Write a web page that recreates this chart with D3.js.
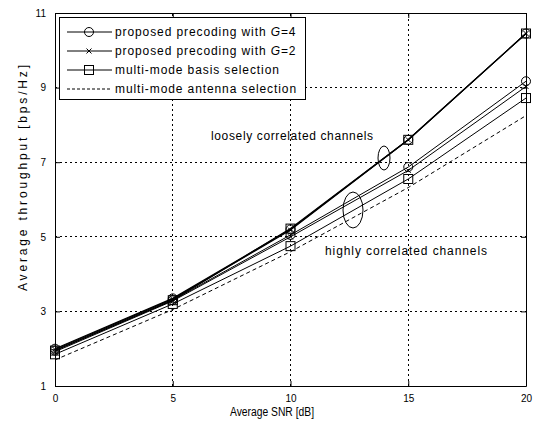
<!DOCTYPE html>
<html>
<head>
<meta charset="utf-8">
<script src="https://cdn.jsdelivr.net/npm/d3@7"></script>
<style>
  body { margin: 0; background: #fff; }
  svg { font-family: "Liberation Sans", Arial, sans-serif; }
</style>
</head>
<body>
<svg id="chart" width="546" height="425"></svg>
<script>
// data
const snr = [0, 5, 10, 15, 20];
const xTicks = [0, 5, 10, 15, 20];
const yTicks = [1, 3, 5, 7, 9, 11];

// loosely correlated channels
const looseG4 = [2.0, 3.35, 5.2, 7.6, 10.45];
const looseG2 = [1.98, 3.33, 5.18, 7.6, 10.45];
const looseBasis = [1.95, 3.3, 5.22, 7.6, 10.45];
// highly correlated channels
const highG4 = [1.95, 3.3, 5.05, 6.87, 9.17];
const highG2 = [1.92, 3.28, 5.0, 6.78, 9.03];
const highBasis = [1.85, 3.2, 4.75, 6.55, 8.72];
const antenna = [1.7, 3.05, 4.6, 6.32, 8.25];

const legendLabels = [
  "proposed precoding with G=4",
  "proposed precoding with G=2",
  "multi-mode basis selection",
  "multi-mode antenna selection"
];

const margin = {top: 13, right: 20, bottom: 39, left: 55};
const svg = d3.select("#chart");
const width = +svg.attr("width");
const height = +svg.attr("height");

const x = d3.scaleLinear().domain([0, 20]).range([margin.left, width - margin.right]);
const y = d3.scaleLinear().domain([1, 11]).range([height - margin.bottom, margin.top]);

// grid
const grid = svg.append("g").attr("stroke", "#000").attr("stroke-width", 1)
  .attr("stroke-dasharray", "2,3").attr("shape-rendering", "crispEdges");
grid.selectAll("line.gx").data(xTicks.slice(1, -1)).enter().append("line")
  .attr("x1", d => x(d)).attr("x2", d => x(d))
  .attr("y1", y(1)).attr("y2", y(11));
grid.selectAll("line.gy").data(yTicks.slice(1, -1)).enter().append("line")
  .attr("x1", x(0)).attr("x2", x(20))
  .attr("y1", d => y(d)).attr("y2", d => y(d));

// axes (MATLAB style, inward ticks)
const ax = svg.append("g").attr("font-size", 12);
ax.append("g").attr("transform", `translate(0,${y(1)})`)
  .call(d3.axisBottom(x).tickValues(xTicks).tickSizeInner(-5).tickSizeOuter(0).tickPadding(9));
ax.append("g").attr("transform", `translate(0,${y(11)})`)
  .call(d3.axisTop(x).tickValues(xTicks).tickSizeInner(-5).tickSizeOuter(0).tickFormat(""));
ax.append("g").attr("transform", `translate(${x(0)},0)`)
  .call(d3.axisLeft(y).tickValues(yTicks).tickSizeInner(-5).tickSizeOuter(0).tickPadding(9));
ax.append("g").attr("transform", `translate(${x(20)},0)`)
  .call(d3.axisRight(y).tickValues(yTicks).tickSizeInner(-5).tickSizeOuter(0).tickFormat(""));
ax.selectAll("path, line").attr("stroke", "#000");
ax.selectAll("text").attr("fill", "#000").attr("font-family", "Liberation Sans, Arial, sans-serif");

// axis labels
svg.append("text").attr("x", 272).attr("y", 416).attr("text-anchor", "middle")
  .attr("font-size", 12).attr("textLength", 84).attr("lengthAdjust", "spacingAndGlyphs")
  .text("Average SNR [dB]");
svg.append("text").attr("transform", "translate(27,178) rotate(-90)")
  .attr("text-anchor", "middle").attr("font-size", 12)
  .attr("textLength", 226).attr("lengthAdjust", "spacing")
  .text("Average throughput [bps/Hz]");

// lines
const line = d3.line().x((d, i) => x(snr[i])).y(d => y(d));
const series = [
  {v: looseG4, m: "circle", w: 1.2},
  {v: looseG2, m: "x", w: 1.2},
  {v: looseBasis, m: "square", w: 1.2},
  {v: highG4, m: "circle", w: 1},
  {v: highG2, m: "x", w: 1},
  {v: highBasis, m: "square", w: 1},
  {v: antenna, m: "none", w: 1, dash: "4,3"}
];

function drawMarker(g, m, cx, cy) {
  if (m === "circle") {
    g.append("circle").attr("cx", cx).attr("cy", cy).attr("r", 4.5)
      .attr("fill", "none").attr("stroke", "#000");
  } else if (m === "square") {
    g.append("rect").attr("x", cx - 4.5).attr("y", cy - 4.5).attr("width", 9).attr("height", 9)
      .attr("fill", "none").attr("stroke", "#000");
  } else if (m === "x") {
    g.append("path").attr("d", `M${cx - 2.5},${cy - 2.5}L${cx + 2.5},${cy + 2.5}M${cx - 2.5},${cy + 2.5}L${cx + 2.5},${cy - 2.5}`)
      .attr("stroke", "#000");
  }
}

const plot = svg.append("g");
series.forEach(s => {
  plot.append("path").datum(s.v).attr("d", line).attr("fill", "none")
    .attr("stroke", "#000").attr("stroke-width", s.w)
    .attr("stroke-dasharray", s.dash || null);
  const mg = plot.append("g");
  s.v.forEach((d, i) => drawMarker(mg, s.m, x(snr[i]), y(d)));
});

// annotations
svg.append("text").attr("x", 211).attr("y", 140).attr("font-size", 12)
  .attr("textLength", 162).attr("lengthAdjust", "spacing").text("loosely correlated channels");
svg.append("ellipse").attr("cx", 384).attr("cy", 158).attr("rx", 6).attr("ry", 12)
  .attr("fill", "none").attr("stroke", "#000");
svg.append("text").attr("x", 325).attr("y", 255).attr("font-size", 12)
  .attr("textLength", 162).attr("lengthAdjust", "spacing").text("highly correlated channels");
svg.append("ellipse").attr("cx", 353).attr("cy", 210).attr("rx", 10).attr("ry", 18)
  .attr("fill", "none").attr("stroke", "#000");

// legend
const lg = svg.append("g");
lg.append("rect").attr("x", 59).attr("y", 17).attr("width", 246).attr("height", 82)
  .attr("fill", "#fff").attr("stroke", "#000").attr("shape-rendering", "crispEdges");
const legendMarks = ["circle", "x", "square", "none"];
legendLabels.forEach((t, i) => {
  const ly = 32 + i * 19;
  lg.append("line").attr("x1", 67).attr("x2", 112).attr("y1", ly).attr("y2", ly)
    .attr("stroke", "#000").attr("stroke-dasharray", i === 3 ? "3,2" : null);
  drawMarker(lg, legendMarks[i], 89, ly);
  const tx = lg.append("text").attr("x", 115).attr("y", ly + 4).attr("font-size", 12)
    .attr("letter-spacing", "0.9px");
  if (i < 2) {
    tx.append("tspan").text(t.slice(0, -3));
    tx.append("tspan").attr("font-style", "italic").text("G");
    tx.append("tspan").text(t.slice(-2));
  } else {
    tx.text(t);
  }
});
</script>
</body>
</html>
